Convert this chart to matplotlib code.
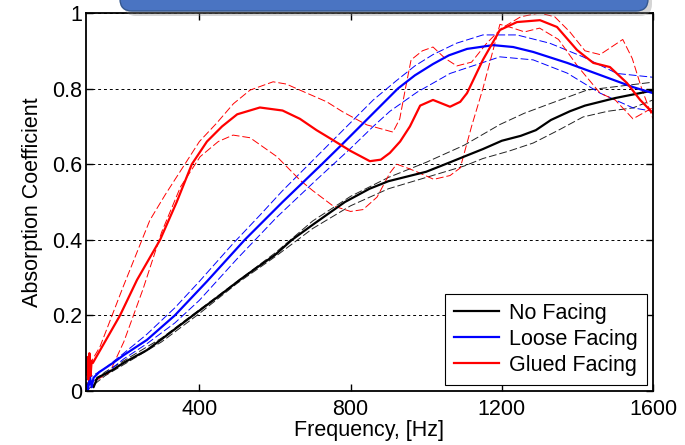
import matplotlib
matplotlib.use("Agg")
import matplotlib.pyplot as plt
from matplotlib.patches import FancyBboxPatch
from matplotlib.transforms import IdentityTransform

plt.rcParams['font.family'] = ['Liberation Sans', 'DejaVu Sans']

# ---- data ----
# No Facing (black): average and two samples
f_black = [100, 110, 120, 130, 150, 171, 200, 261, 300, 383, 450, 507, 550, 600, 645,
           700, 785, 850, 900, 1000, 1063, 1100, 1150, 1200, 1250, 1290, 1330, 1380,
           1420, 1460, 1500, 1550, 1600]
a_black = [0.0, 0.03, 0.01, 0.035, 0.045, 0.056, 0.075, 0.108, 0.137, 0.2, 0.25, 0.294,
           0.325, 0.36, 0.40, 0.44, 0.5, 0.535, 0.555, 0.58, 0.605, 0.62, 0.64, 0.662,
           0.675, 0.69, 0.717, 0.74, 0.755, 0.765, 0.775, 0.785, 0.795]
f_black_1 = [100, 150, 200, 300, 400, 500, 600, 700, 800, 900, 1000, 1100, 1195, 1260,
             1327, 1425, 1500, 1600]
a_black_1 = [0.01, 0.05, 0.08, 0.14, 0.215, 0.29, 0.365, 0.45, 0.515, 0.565, 0.605, 0.65,
             0.705, 0.735, 0.76, 0.796, 0.805, 0.817]
f_black_2 = [100, 150, 200, 300, 400, 500, 600, 700, 800, 900, 1000, 1100, 1150, 1220,
             1283, 1350, 1415, 1480, 1547, 1600]
a_black_2 = [0.0, 0.04, 0.07, 0.13, 0.205, 0.285, 0.355, 0.43, 0.49, 0.535, 0.565, 0.595,
             0.615, 0.635, 0.656, 0.69, 0.725, 0.74, 0.749, 0.77]

# Loose Facing (blue)
f_blue = [100, 105, 110, 115, 120, 135, 171, 200, 261, 335, 420, 470, 520, 570, 620,
          672, 724, 775, 825, 875, 925, 970, 1018, 1060, 1108, 1177, 1230, 1283, 1373,
          1460, 1547, 1600]
a_blue = [0.02, 0.0, 0.04, 0.01, 0.035, 0.05, 0.074, 0.095, 0.135, 0.2, 0.29, 0.345,
          0.4, 0.45, 0.5, 0.55, 0.6, 0.65, 0.7, 0.75, 0.8, 0.835, 0.865, 0.888, 0.905,
          0.915, 0.91, 0.897, 0.868, 0.836, 0.804, 0.788]
f_blue_1 = [100, 150, 200, 261, 335, 400, 489, 560, 620, 680, 740, 800, 860, 920, 970,
            1018, 1080, 1150, 1240, 1327, 1415, 1505, 1600]
a_blue_1 = [0.03, 0.06, 0.1, 0.15, 0.22, 0.29, 0.39, 0.465, 0.53, 0.59, 0.65, 0.71, 0.77,
            0.82, 0.86, 0.89, 0.92, 0.942, 0.942, 0.92, 0.884, 0.84, 0.83]
f_blue_2 = [100, 150, 200, 261, 335, 400, 500, 605, 711, 798, 860, 904, 975, 1063, 1195,
            1283, 1373, 1460, 1547, 1600]
a_blue_2 = [0.01, 0.045, 0.085, 0.125, 0.18, 0.24, 0.35, 0.46, 0.56, 0.64, 0.7, 0.74,
            0.79, 0.84, 0.884, 0.876, 0.841, 0.788, 0.749, 0.74]

# Glued Facing (red)
f_red = [100, 103, 106, 109, 112, 115, 118, 150, 190, 235, 296, 340, 380, 420, 460, 500,
         560, 620, 666, 710, 753, 800, 851, 880, 904, 931, 957, 984, 1018, 1063, 1090,
         1108, 1150, 1195, 1240, 1301, 1346, 1399, 1442, 1486, 1531, 1566, 1600]
a_red = [0.05, 0.09, 0.03, 0.1, 0.04, 0.08, 0.074, 0.13, 0.2, 0.294, 0.4, 0.5, 0.6, 0.66,
         0.7, 0.732, 0.75, 0.742, 0.72, 0.69, 0.664, 0.635, 0.608, 0.612, 0.63, 0.66,
         0.7, 0.755, 0.77, 0.752, 0.765, 0.788, 0.876, 0.955, 0.976, 0.981, 0.963, 0.902,
         0.868, 0.857, 0.815, 0.77, 0.735]
f_red_1 = [100, 115, 137, 198, 269, 310, 357, 400, 446, 490, 534, 595, 630, 666, 737,
           780, 843, 912, 930, 945, 960, 990, 1018, 1050, 1081, 1120, 1160, 1200, 1250,
           1300, 1340, 1380, 1420, 1460, 1490, 1520, 1545, 1570, 1600]
a_red_1 = [0.04, 0.08, 0.117, 0.275, 0.452, 0.52, 0.593, 0.66, 0.709, 0.76, 0.796, 0.818,
           0.812, 0.796, 0.765, 0.738, 0.704, 0.685, 0.72, 0.8, 0.876, 0.9, 0.91, 0.88,
           0.86, 0.87, 0.92, 0.96, 0.99, 1.0, 0.99, 0.95, 0.9, 0.89, 0.91, 0.93, 0.88,
           0.8, 0.72]
f_red_2 = [100, 130, 163, 200, 251, 300, 350, 402, 450, 489, 534, 605, 666, 700, 753,
           800, 833, 870, 904, 922, 950, 975, 1020, 1063, 1090, 1120, 1150, 1195, 1230,
           1260, 1300, 1350, 1400, 1460, 1500, 1547, 1600]
a_red_2 = [0.02, 0.03, 0.05, 0.13, 0.27, 0.42, 0.54, 0.62, 0.66, 0.677, 0.67, 0.62, 0.558,
           0.53, 0.49, 0.475, 0.48, 0.513, 0.577, 0.6, 0.59, 0.58, 0.56, 0.57, 0.59, 0.7,
           0.8, 0.97, 0.96, 0.95, 0.96, 0.93, 0.86, 0.788, 0.77, 0.72, 0.75]

x_ticks = [400, 800, 1200, 1600]
y_ticks = [0, 0.2, 0.4, 0.6, 0.8, 1]
y_tick_labels = ['0', '0.2', '0.4', '0.6', '0.8', '1']

# ---- figure ----
W, H = 685, 445
fig = plt.figure(figsize=(W / 100, H / 100), dpi=100)
ax = fig.add_axes([86 / W, 1 - 391 / H, (653 - 86) / W, (391 - 13) / H])

dash = (0, (8, 3))
ax.plot(f_black_1, a_black_1, color='#222222', lw=0.7, ls=dash)
ax.plot(f_black_2, a_black_2, color='#222222', lw=0.7, ls=dash)
ax.plot(f_blue_1, a_blue_1, color='blue', lw=0.7, ls=dash)
ax.plot(f_blue_2, a_blue_2, color='blue', lw=0.7, ls=dash)
ax.plot(f_red_1, a_red_1, color='red', lw=0.7, ls=dash)
ax.plot(f_red_2, a_red_2, color='red', lw=0.7, ls=dash)

ax.plot(f_black, a_black, color='black', lw=1.6, label='No Facing')
ax.plot(f_blue, a_blue, color='blue', lw=1.6, label='Loose Facing')
ax.plot(f_red, a_red, color='red', lw=1.6, label='Glued Facing')

ax.set_xlim(100, 1600)
ax.set_ylim(0, 1)
ax.set_xticks(x_ticks)
ax.set_yticks(y_ticks)
ax.set_yticklabels(y_tick_labels)
ax.tick_params(direction='in', length=5, width=1, labelsize=15.5,
               top=True, right=True)
ax.tick_params(axis='x', pad=6)
ax.tick_params(axis='y', pad=3)
for s in ax.spines.values():
    s.set_linewidth(1.3)
ax.yaxis.grid(True, color='black', lw=0.7, ls=(0, (3, 3)))
ax.set_axisbelow(True)

ax.set_xlabel('Frequency, [Hz]', fontsize=15.5, labelpad=0)
ax.set_ylabel('Absorption Coefficient', fontsize=15.5, labelpad=6)

leg = ax.legend(loc='lower right', fontsize=15.5, fancybox=False, framealpha=1,
                edgecolor='black', handlelength=2.1, handletextpad=0.45,
                labelspacing=0.22, borderaxespad=0.3, borderpad=0.42)
leg.get_frame().set_linewidth(0.8)

# slide banner cut off at the top
shadow = FancyBboxPatch((124, 429), 528, 40, boxstyle='round,pad=0,rounding_size=12',
                        transform=IdentityTransform(), facecolor='#888888',
                        edgecolor='none', alpha=0.35, zorder=5)
banner = FancyBboxPatch((120, 434), 528, 40, boxstyle='round,pad=0,rounding_size=12',
                        transform=IdentityTransform(), facecolor='#4a74c2',
                        edgecolor='#35588f', lw=1, zorder=6)
fig.patches.extend([shadow, banner])

fig.savefig('out.png', dpi=100)
